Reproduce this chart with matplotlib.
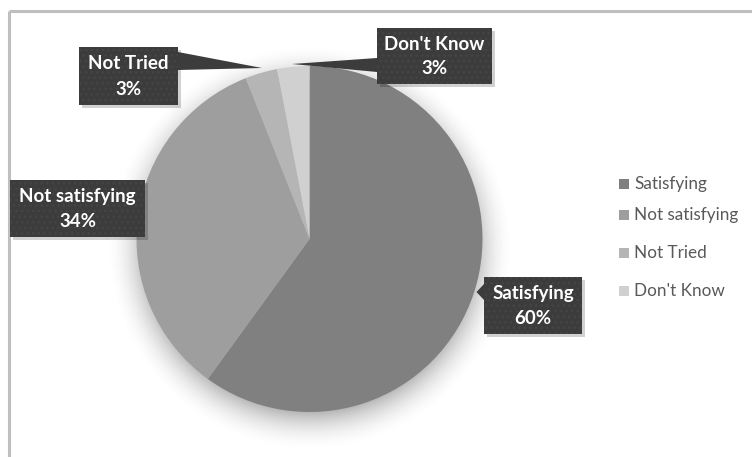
import numpy as np
import matplotlib
matplotlib.use("Agg")
import matplotlib.pyplot as plt
from matplotlib.patches import Polygon, Rectangle

categories = ["Satisfying", "Not satisfying", "Not Tried", "Don't Know"]
values = [60, 34, 3, 3]
colors = ["#808080", "#9e9e9e", "#b5b5b5", "#d0d0d0"]

W, H = 752, 457
fig = plt.figure(figsize=(W / 100, H / 100), dpi=100)
ax = fig.add_axes([0, 0, 1, 1])
plt.rcParams["font.family"] = ["Lato", "DejaVu Sans"]

# chart frame (top and left edges visible)
ax.plot([8.5, W], [H - 10.5, H - 10.5], color="#bfbfbf", lw=2.2, solid_capstyle="butt")
ax.plot([8.5, 8.5], [0, H - 10.5], color="#bfbfbf", lw=2.2, solid_capstyle="butt")

cx, cy, r = 309.5, H - 239, 173

# soft shadow behind the pie
yy, xx = np.mgrid[0:H, 0:W]
d = np.hypot(xx - cx, (H - yy) - (cy - 8))
sh = np.clip((r + 32 - d) / 40, 0, 1) ** 2 * 0.28
rgba = np.zeros((H, W, 4))
rgba[..., 3] = sh
ax.imshow(rgba, extent=[0, W, 0, H], origin="upper", zorder=1)

wedges, _ = ax.pie(values, colors=colors, startangle=90, counterclock=False,
                   center=(cx, cy), radius=r, wedgeprops=dict(linewidth=0),
                   frame=True)
for w in wedges:
    w.set_zorder(2)
ax.set_xlim(0, W)
ax.set_ylim(0, H)
ax.set_aspect("equal")
ax.axis("off")

# callout label boxes: left, top (pixels from top), width, height
boxes = {
    "Satisfying": (484, 277, 98, 57),
    "Not satisfying": (10, 180, 135, 57),
    "Not Tried": (79, 47, 99, 58),
    "Don't Know": (377, 28, 115, 56),
}
box_color = "#3c3c3c"

for cat, val in zip(categories, values):
    bx, by, bw, bh = boxes[cat]
    y0 = H - by - bh
    ax.add_patch(Rectangle((bx + 3, y0 - 3), bw, bh, facecolor="#000000",
                           alpha=0.18, lw=0, zorder=4))
    ax.add_patch(Rectangle((bx, y0), bw, bh, facecolor=box_color, lw=0,
                           hatch="...", edgecolor="#454545", zorder=5))
    ax.text(bx + bw / 2, y0 + bh * 0.71, cat, color="white", fontsize=13.5,
            fontweight="bold", ha="center", va="center", zorder=6)
    ax.text(bx + bw / 2, y0 + bh * 0.27, f"{val}%", color="white", fontsize=13.5,
            fontweight="bold", ha="center", va="center", zorder=6)

# pointers from the boxes toward their slices
ax.add_patch(Polygon([(484, H - 284), (484, H - 300), (cx + r - 6, H - 292)],
                     closed=True, facecolor=box_color, lw=0, zorder=5))
ax.add_patch(Polygon([(178, H - 52), (178, H - 70), (262, H - 68)],
                     closed=True, facecolor=box_color, lw=0, zorder=5))
ax.add_patch(Polygon([(377, H - 58), (377, H - 72), (292, H - 64)],
                     closed=True, facecolor=box_color, lw=0, zorder=5))

# legend
leg_y = [184, 215, 253, 291]
for cat, col, ly in zip(categories, colors, leg_y):
    ax.add_patch(Rectangle((619, H - ly - 5), 10, 10, facecolor=col, lw=0, zorder=5))
    ax.text(634, H - ly, cat, fontsize=12.3, color="#595959", ha="left",
            va="center", zorder=6)

fig.savefig("out.png", dpi=100, facecolor="white")
